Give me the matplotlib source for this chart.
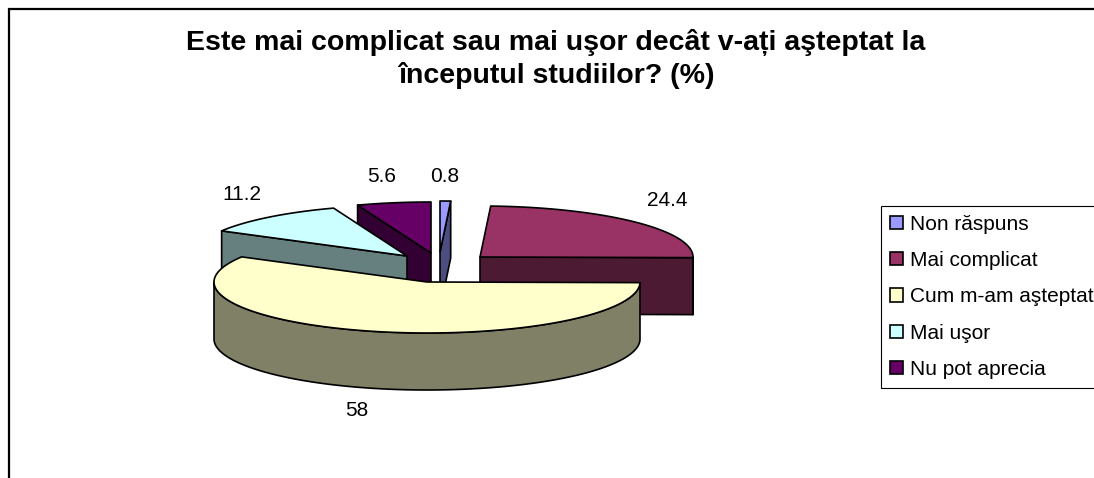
import numpy as np
import matplotlib
matplotlib.use("Agg")
import matplotlib.pyplot as plt
from matplotlib.patches import Patch, Polygon
from matplotlib.colors import to_rgb

plt.rcParams['font.family'] = ['Liberation Sans', 'DejaVu Sans']

categories = ["Non răspuns", "Mai complicat", "Cum m-am aşteptat", "Mai uşor", "Nu pot aprecia"]
values = [0.8, 24.4, 58, 11.2, 5.6]
value_labels = ["0.8", "24.4", "58", "11.2", "5.6"]
colors = ["#9999FF", "#993366", "#FFFFCC", "#CCFFFF", "#660066"]
title = "Este mai complicat sau mai uşor decât v-ați aşteptat la\nînceputul studiilor? (%)"

# layout, in figure pixels
centers = [(440, 252), (480, 257), (427, 282), (407, 256), (431, 253)]
label_pos = [(445, 177), (667, 200), (357, 410), (242, 195), (382, 177)]
draw_order = [4, 3, 0, 1, 2]
RX, RY, DEPTH = 213, 51, 57

W, H = 1094, 478
fig = plt.figure(figsize=(W / 100, H / 100), dpi=100, facecolor="white")
ax = fig.add_axes([0, 0, 1, 1])
ax.set_xlim(0, W)
ax.set_ylim(H, 0)
ax.axis("off")

lw = 1.2
cum = np.concatenate([[0], np.cumsum(values)]) / sum(values) * 2 * np.pi


def pt(c, t, dz=0):
    return c[0] + RX * np.sin(t), c[1] - RY * np.cos(t) + dz


def add(pts, fc, z):
    ax.add_patch(Polygon(pts, closed=True, fc=fc, ec="black", lw=lw, joinstyle="round", zorder=z))


for rank, i in enumerate(draw_order):
    c = centers[i]
    t0, t1 = cum[i], cum[i + 1]
    fc = to_rgb(colors[i])
    dark = tuple(v * 0.5 for v in fc)
    z = 2 + rank
    # visible cut faces
    for t, vis in ((t0, np.sin(t0) < -1e-6), (t1, np.sin(t1) > 1e-6)):
        if vis:
            add([c, pt(c, t), pt(c, t, DEPTH), (c[0], c[1] + DEPTH)], dark, z)
    # outer wall (front half only)
    a, b = max(t0, np.pi / 2), min(t1, 1.5 * np.pi)
    if b > a:
        ts = np.linspace(a, b, 200)
        upper = [pt(c, t) for t in ts]
        lower = [pt(c, t, DEPTH) for t in ts[::-1]]
        add(upper + lower, dark, z)
    # top face
    ts = np.linspace(t0, t1, 200)
    add([c] + [pt(c, t) for t in ts], fc, z)

for s, (x, y) in zip(value_labels, label_pos):
    ax.text(x, y, s, fontsize=15, ha="center", va="center", color="black", zorder=20)

ax.text(556, 59, title, fontsize=20.5, fontweight="bold", ha="center", va="center",
        linespacing=1.27, color="black", zorder=20)

# chart frame, running off the right and bottom of the picture
ax.plot([8.5, 8.5, W + 5], [H + 5, 9, 9], color="black", lw=1.6, clip_on=False,
        solid_joinstyle="miter", zorder=1)

handles = [Patch(facecolor=col, edgecolor="black", linewidth=1.2) for col in colors]
leg = ax.legend(handles, categories, loc="upper left", bbox_to_anchor=(881, 206),
                bbox_transform=ax.transData, fontsize=15, frameon=True, fancybox=False,
                framealpha=1, edgecolor="black", handlelength=0.62, handleheight=0.62,
                handletextpad=0.33, labelspacing=0.83, borderpad=0.42, borderaxespad=0,
                labelcolor="black")
leg.get_frame().set_linewidth(0.8)
leg.set_zorder(15)

fig.savefig("out.png", dpi=100)
